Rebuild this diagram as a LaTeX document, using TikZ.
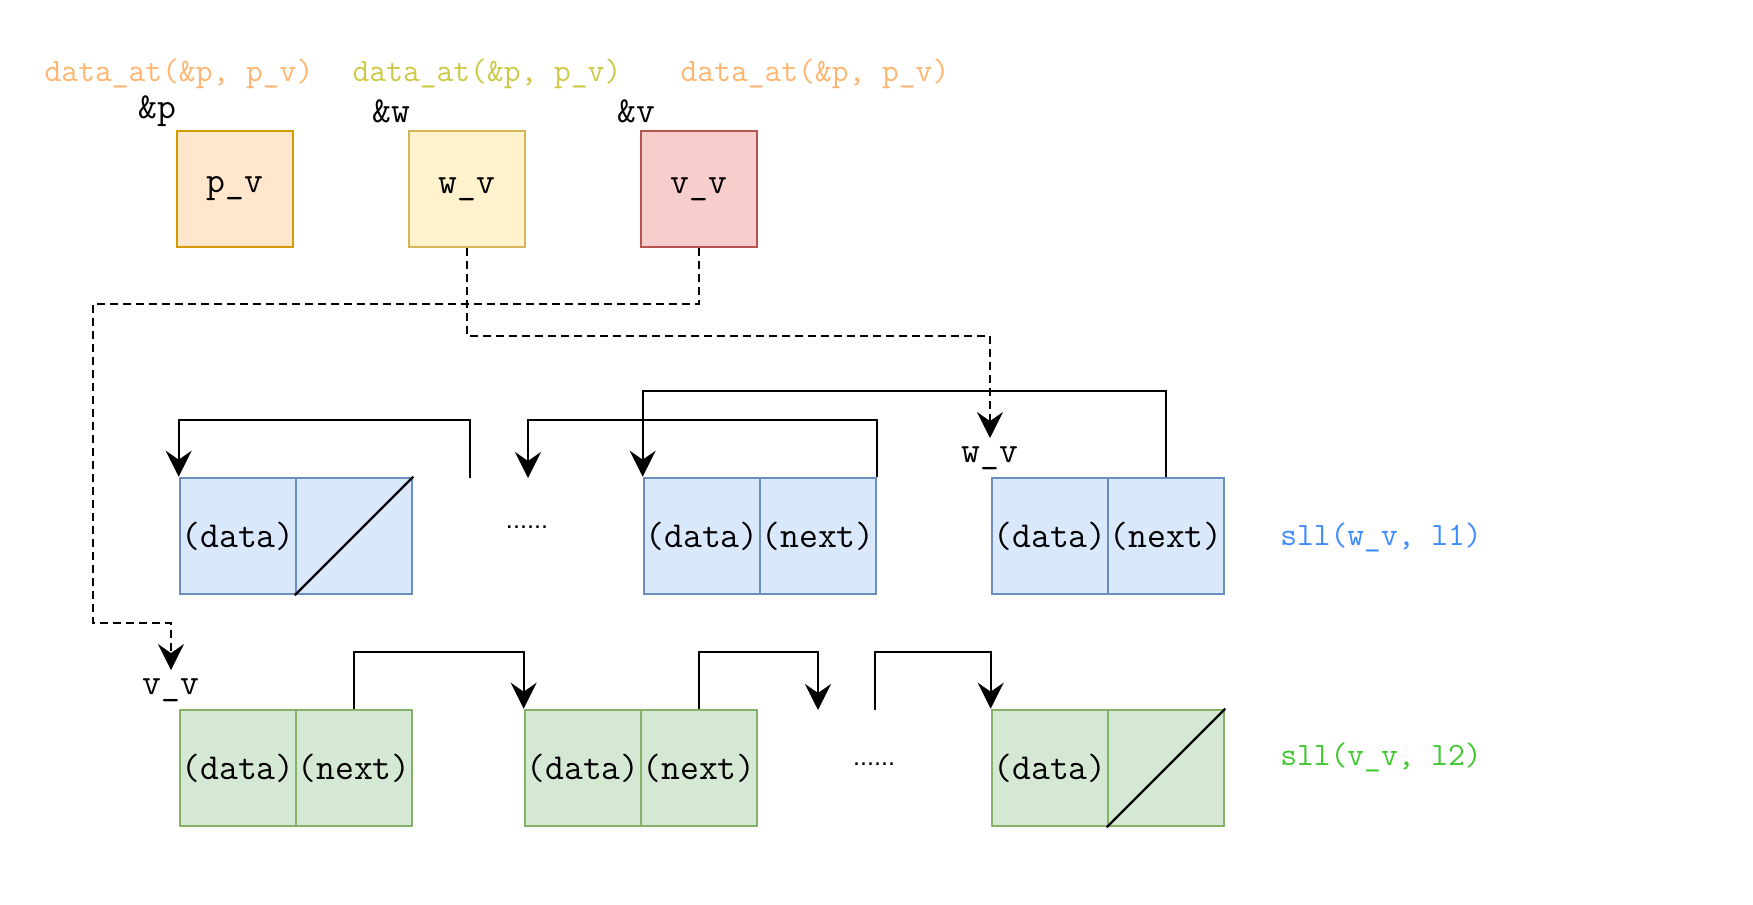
\documentclass[tikz,border=0pt]{standalone}
\usepackage{fontspec}
\newfontfamily\dotfont{Liberation Sans}
\usetikzlibrary{arrows.meta}

\definecolor{orfill}{HTML}{FFE6CC}\definecolor{ordraw}{HTML}{D79B00}
\definecolor{yefill}{HTML}{FFF2CC}\definecolor{yedraw}{HTML}{D6B656}
\definecolor{rdfill}{HTML}{F8CECC}\definecolor{rddraw}{HTML}{B85450}
\definecolor{blfill}{HTML}{DAE8FC}\definecolor{bldraw}{HTML}{6C8EBF}
\definecolor{grfill}{HTML}{D5E8D4}\definecolor{grdraw}{HTML}{82B366}
\definecolor{peach}{HTML}{FFB570}
\definecolor{olive}{HTML}{CDC947}
\definecolor{slblue}{HTML}{3D8BFF}
\definecolor{slgreen}{HTML}{40C830}

\begin{document}
\begin{tikzpicture}[x=0.5pt,y=-0.5pt,
  box/.style={draw, line width=1.3pt, minimum width=58pt, minimum height=58pt, inner sep=0pt, font=\ttfamily\fontsize{18.3}{20}\selectfont},
  bluecell/.style={box, draw=bldraw, fill=blfill},
  greencell/.style={box, draw=grdraw, fill=grfill},
  lbl/.style={inner sep=0pt, font=\ttfamily\fontsize{18.3}{20}\selectfont},
  call/.style={inner sep=0pt, font=\ttfamily\fontsize{16.3}{18}\selectfont},
  dotrow/.style={inner sep=1pt, font=\dotfont\fontsize{12.6}{14}\selectfont},
  link/.style={line width=1.1pt, -{Stealth[length=13pt,width=13pt,inset=4.5pt]}},
  ptr/.style={link, dash pattern=on 4pt off 2.5pt}]

\useasboundingbox (0,0) rectangle (1753,905);

% pointer cells
\node[call, text=peach] (dp) at (179,74) {data\_at(\&p, p\_v)};
\node[call, text=olive] (dw) at (487,74) {data\_at(\&p, p\_v)};
\node[call, text=peach] (dv) at (815,74) {data\_at(\&p, p\_v)};

\node[lbl] (ap) at (157,111) {\&p};
\node[lbl] (aw) at (391,111) {\&w};
\node[lbl] (av) at (636,111) {\&v};

\node[box, draw=ordraw, fill=orfill] (pp) at (235,189) {p\_v};
\node[box, draw=yedraw, fill=yefill] (ww) at (467,189) {w\_v};
\node[box, draw=rddraw, fill=rdfill] (vv) at (699,189) {v\_v};

% list l1
\node[bluecell] (bd1) at (238,536) {(data)};
\node[bluecell] (bn1) at (354,536) {};
\draw[line width=1.1pt] (bn1.south west) -- (bn1.north east);
\foreach \i/\x in {2/702,3/1050}{
	\node[bluecell] (bd\i) at (\x,536) {(data)};
	\node[bluecell] (bn\i) at (\x+116,536) {(next)};
}
\node[dotrow] (dots1) at (527,527) {......};
\node[lbl] (lw) at (990,458) {w\_v};
\node[call, text=slblue] (s1) at (1381,537) {sll(w\_v, l1)};

% list l2
\foreach \i/\x in {1/238,2/583}{
	\node[greencell] (gd\i) at (\x,768) {(data)};
	\node[greencell] (gn\i) at (\x+116,768) {(next)};
}
\node[greencell] (gd3) at (1050,768) {(data)};
\node[greencell] (gn3) at (1166,768) {};
\draw[line width=1.1pt] (gn3.south west) -- (gn3.north east);
\node[dotrow] (dots2) at (874,764) {......};
\node[lbl] (lv) at (171,690) {v\_v};
\node[call, text=slgreen] (s2) at (1381,757) {sll(v\_v, l2)};

% next links
\coordinate (f1) at (470,478);
\coordinate (f2) at (528,478);
\coordinate (f3) at (818,710);
\coordinate (f4) at (875,710);
\draw[link] (f1) -- (f1 |- 0,420) -| (bd1.north west);
\draw[link] (bn2.north east) -- (bn2.north east |- 0,420) -| (f2);
\draw[link] (bn3.north) -- (bn3.north |- 0,391) -| (bd2.north west);
\draw[link] (gn1.north) -- (gn1.north |- 0,652) -| (gd2.north west);
\draw[link] (gn2.north) -- (gn2.north |- 0,652) -| (f3);
\draw[link] (f4) -- (f4 |- 0,652) -| (gd3.north west);

% pointer links
\draw[ptr] (vv.south) |- (93,304) |- (171,623) -- ([yshift=4pt]lv.north);
\draw[ptr] (ww.south) |- (990,336) -- ([yshift=4pt]lw.north);

\end{tikzpicture}
\end{document}
